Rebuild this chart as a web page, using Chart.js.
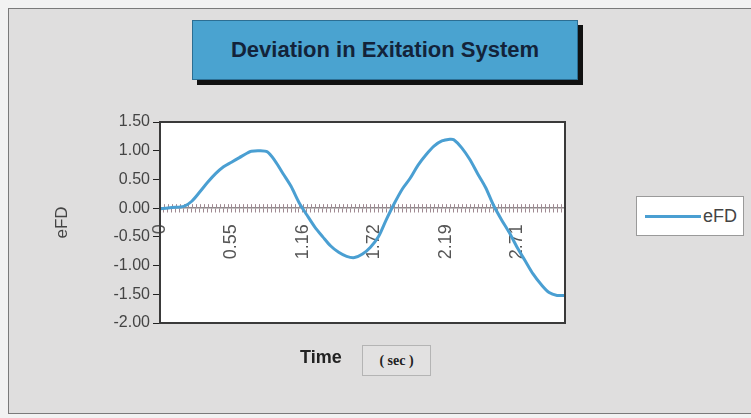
<!DOCTYPE html>
<html>
<head>
<meta charset="utf-8">
<script src="https://cdn.jsdelivr.net/npm/chart.js@4.4.0/dist/chart.umd.min.js"></script>
<style>
  body { margin: 0; background: #f2f2f2; font-family: Arial, "Liberation Sans", sans-serif; }
  #wrap { position: relative; width: 751px; height: 418px; overflow: hidden; }
  #panel { position: absolute; left: 8px; top: 8px; width: 748px; height: 404px; background: #dfdede; border: 1px solid #7a7a7a; }
  #title { position: absolute; left: 192px; top: 20px; width: 384px; height: 58px; background: #4aa3d0; border: 1px solid #2c6e93;
           box-shadow: 5px 5px 0 #111; font: bold 22px Arial, "Liberation Sans", sans-serif; color: #13233a;
           display: flex; align-items: center; justify-content: center; }
  #chart { position: absolute; left: 0; top: 0; }
  #legend { position: absolute; left: 636px; top: 196px; width: 106px; height: 38px; background: #fff; border: 1px solid #9a9a9a;
            display: flex; align-items: center; }
  #legend .swatch { width: 56px; height: 3px; margin-left: 8px; }
  #legend .txt { font-size: 18px; color: #444; margin-left: 2px; }
  #xtitle { position: absolute; left: 300px; top: 347px; font: bold 18px Arial, "Liberation Sans", sans-serif; color: #222; }
  #unit { position: absolute; left: 362px; top: 345px; width: 67px; height: 29px; border: 1px solid #b4b4b4; background: #e2e1e1;
          font: bold 14px "Liberation Serif", "Times New Roman", serif; color: #222; display: flex; align-items: center; justify-content: center; }
</style>
</head>
<body>
<div id="wrap">
  <div id="panel"></div>
  <div id="title">Deviation in Exitation System</div>
  <canvas id="chart" width="751" height="418"></canvas>
  <div id="legend"></div>
  <div id="xtitle">Time</div>
  <div id="unit">( sec )</div>
</div>
<script>
// sample position along the time axis (category index) and the eFD value
var sampleIndex = [0, 3, 6, 8, 10, 12, 14, 16, 18, 20, 22, 23, 25, 27, 29, 31, 33, 35, 37, 39, 41, 43, 45, 47, 49, 51, 53, 55, 57, 59,
                   61, 63, 65, 67, 69, 71, 73, 74, 76, 78, 80, 82, 84, 86, 88, 90, 92, 94, 96, 98, 100, 102];
var efd = [-0.01, 0.01, 0.03, 0.12, 0.28, 0.45, 0.60, 0.72, 0.80, 0.88, 0.96, 0.99, 1.00, 0.98, 0.82, 0.60, 0.38, 0.10, -0.12, -0.33,
           -0.50, -0.66, -0.77, -0.84, -0.86, -0.80, -0.68, -0.50, -0.20, 0.08, 0.33, 0.52, 0.75, 0.93, 1.08, 1.17, 1.20, 1.19,
           1.05, 0.85, 0.60, 0.36, 0.05, -0.20, -0.43, -0.69, -0.92, -1.15, -1.33, -1.47, -1.52, -1.52];

// time labels shown on the category axis
var tickIndex = [0, 18, 36, 54, 72, 90];
var tickLabels = ['0', '0.55', '1.16', '1.72', '2.19', '2.71'];
var lastIndex = 102;

var seriesName = 'eFD';
var lineColor = '#4a9fd2';

var points = sampleIndex.map(function (x, i) { return { x: x, y: efd[i] }; });

var plotFrame = {
  id: 'plotFrame',
  beforeDraw: function (chart) {
    var a = chart.chartArea, ctx = chart.ctx;
    ctx.save();
    ctx.fillStyle = '#ffffff';
    ctx.fillRect(a.left, a.top, a.right - a.left, a.bottom - a.top);
    ctx.restore();
  },
  beforeDatasetsDraw: function (chart) {
    // tick marks on the upper side of the zero axis too
    var xs = chart.scales.x, ys = chart.scales.y, ctx = chart.ctx;
    var y0 = ys.getPixelForValue(0);
    ctx.save();
    ctx.strokeStyle = '#a08a92';
    ctx.lineWidth = 1;
    ctx.beginPath();
    xs.ticks.forEach(function (t) {
      var px = Math.round(xs.getPixelForValue(t.value)) + 0.5;
      ctx.moveTo(px, y0 - 4);
      ctx.lineTo(px, y0);
    });
    ctx.stroke();
    ctx.restore();
  },
  afterDatasetsDraw: function (chart) {
    var a = chart.chartArea, ctx = chart.ctx;
    ctx.save();
    ctx.strokeStyle = '#3a3a3a';
    ctx.lineWidth = 2;
    ctx.strokeRect(a.left, a.top, a.right - a.left, a.bottom - a.top);
    ctx.restore();
  }
};

Chart.defaults.font.family = 'Arial, "Liberation Sans", sans-serif';

new Chart(document.getElementById('chart'), {
  type: 'line',
  data: {
    datasets: [{
      label: seriesName,
      data: points,
      borderColor: lineColor,
      backgroundColor: lineColor,
      borderWidth: 3,
      pointRadius: 0,
      tension: 0.3,
      fill: false
    }]
  },
  options: {
    responsive: false,
    animation: false,
    layout: { padding: { left: 52, top: 122, right: 186, bottom: 95 } },
    plugins: { legend: { display: false }, tooltip: { enabled: false } },
    scales: {
      x: {
        type: 'linear',
        min: 0,
        max: lastIndex,
        position: { y: 0 },
        border: { color: '#8e8a8c', width: 1.5 },
        grid: { drawOnChartArea: false, drawTicks: true, tickLength: 4, color: '#a08a92' },
        ticks: {
          stepSize: 1,
          maxTicksLimit: 200,
          autoSkip: false,
          minRotation: 90,
          maxRotation: 90,
          padding: 12,
          color: '#555',
          font: { size: 18 },
          callback: function (v) {
            var k = tickIndex.indexOf(v);
            return k >= 0 ? tickLabels[k] : '';
          }
        }
      },
      y: {
        position: 'left',
        min: -2,
        max: 1.5,
        afterFit: function (s) { s.width = 108; },
        border: { color: '#222', width: 2 },
        grid: { drawOnChartArea: false, drawTicks: true, tickLength: 7, color: '#222' },
        ticks: {
          stepSize: 0.5,
          padding: 3,
          color: '#444',
          font: { size: 16 },
          callback: function (v) { return v.toFixed(2); }
        },
        title: { display: true, text: seriesName, color: '#444', font: { size: 17 }, padding: 0 }
      }
    }
  },
  plugins: [plotFrame]
});

var legend = document.getElementById('legend');
legend.innerHTML = '<div class="swatch" style="background:' + lineColor + '"></div><div class="txt">' + seriesName + '</div>';
</script>
</body>
</html>
